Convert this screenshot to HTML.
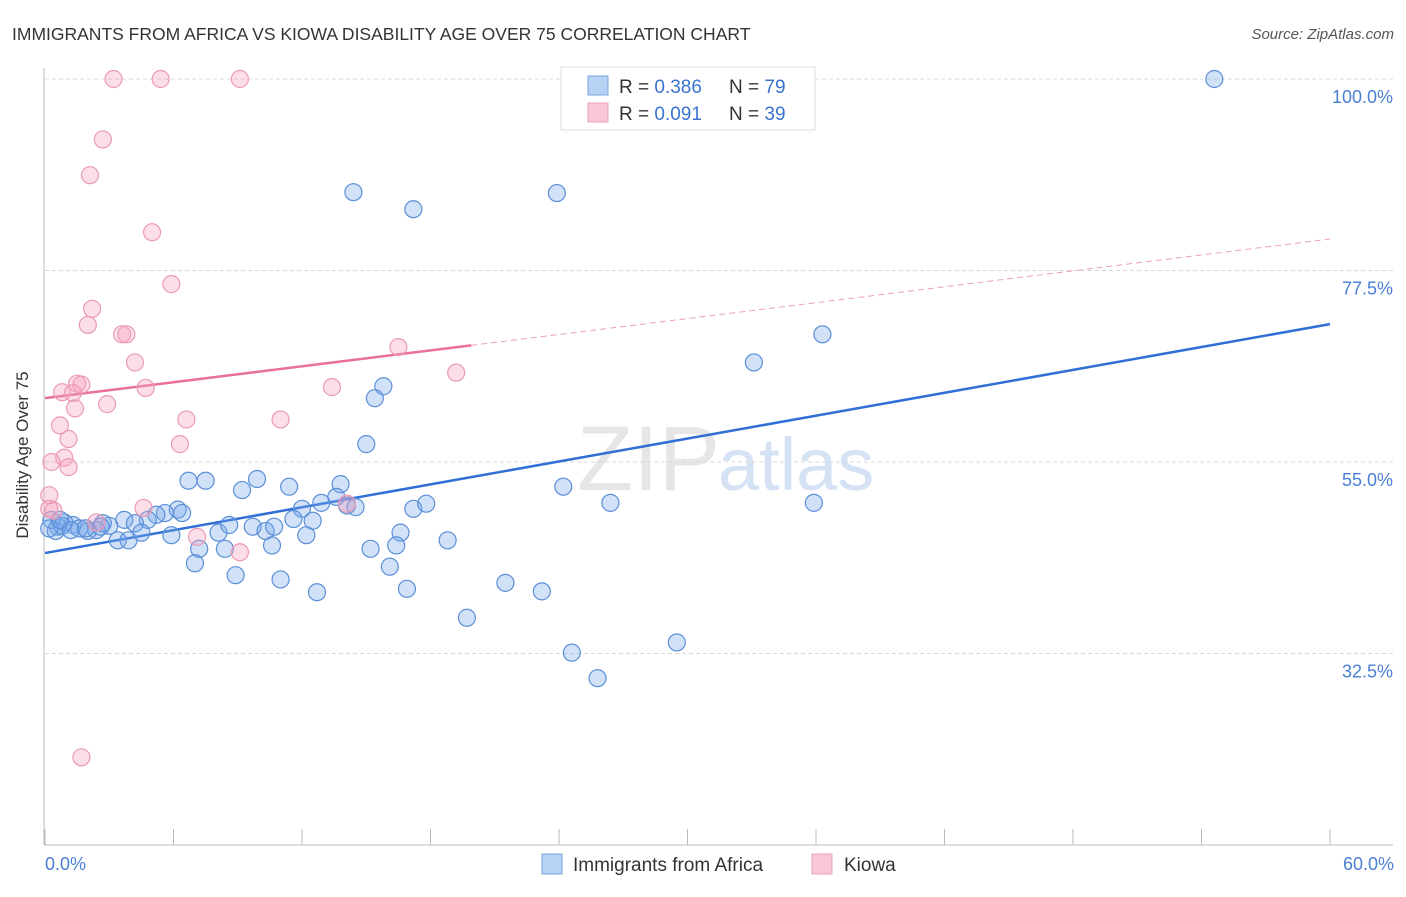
<!DOCTYPE html>
<html><head><meta charset="utf-8"><style>
body{margin:0;background:#fff;font-family:"Liberation Sans",sans-serif}
svg text{font-family:"Liberation Sans",sans-serif}
</style></head><body>
<svg id="c" width="1406" height="892" viewBox="0 0 1406 892">
<text x="12" y="40" font-size="17.5" fill="#333">IMMIGRANTS FROM AFRICA VS KIOWA DISABILITY AGE OVER 75 CORRELATION CHART</text>
<text x="1394" y="39" font-size="15" fill="#555" text-anchor="end" font-style="italic">Source: ZipAtlas.com</text>
<text x="720" y="490" font-size="92" fill="#e6e6e6" text-anchor="end" font-family="Liberation Serif">ZIP</text>
<text x="718" y="490" font-size="74" fill="#d4e2f4">atlas</text>
<g id="grid"></g><g id="axes"></g><g id="trend"></g><g id="pts"></g>
<text x="28" y="455" font-size="17" fill="#333" text-anchor="middle" transform="rotate(-90 28 455)">Disability Age Over 75</text>
<text x="45" y="870" font-size="18" fill="#4a7fd4">0.0%</text>
<text x="1394" y="870" font-size="18" fill="#4a7fd4" text-anchor="end">60.0%</text>
<g>
<rect x="561" y="67" width="254" height="63" fill="#fff" stroke="#ddd"/>
<rect x="588" y="76" width="20" height="19" fill="#b7d2f2" stroke="#7aa6e0"/>
<rect x="588" y="103" width="20" height="19" fill="#f8c8d6" stroke="#eda0b8"/>
<text x="619" y="93" font-size="19" fill="#333">R = <tspan fill="#3b73d0">0.386</tspan><tspan x="729">N = </tspan><tspan fill="#3b73d0">79</tspan></text>
<text x="619" y="120" font-size="19" fill="#333">R = <tspan fill="#3b73d0">0.091</tspan><tspan x="729">N = </tspan><tspan fill="#3b73d0">39</tspan></text>
</g>
<g><rect x="542" y="854" width="20" height="20" fill="#b7d2f2" stroke="#7aa6e0"/><text x="573" y="871" font-size="19" fill="#333">Immigrants from Africa</text></g>
<g><rect x="812" y="854" width="20" height="20" fill="#f8c8d6" stroke="#eda0b8"/><text x="844" y="871" font-size="19" fill="#333">Kiowa</text></g>
</svg>
<script>
const yTicks=[100,77.5,55,32.5];
const yTickLabels=["100.0%","77.5%","55.0%","32.5%"];
const blueX=[54.6,14.4,17.2,23.9,36.3,33.1,15.8,15.4,15.0,24.2,26.4,35.9,6.7,7.5,9.9,9.2,11.4,13.8,13.6,12.9,12.0,14.1,14.5,17.2,17.8,6.2,6.4,5.6,5.2,4.8,3.7,4.2,3.0,2.7,2.4,2.0,1.3,0.9,0.6,0.5,0.3,1.6,3.4,3.9,4.5,5.9,7.2,8.1,8.4,8.6,9.7,10.3,10.7,10.6,11.6,12.2,12.5,16.6,16.4,15.2,18.8,7.0,8.9,11.0,12.7,16.1,16.9,19.7,21.5,23.2,24.6,25.8,29.5,0.8,0.2,1.2,1.9,0.7,2.6];
const blueY=[100,86.7,84.7,86.6,70.0,66.7,63.9,62.5,57.1,52.1,50.2,50.2,52.8,52.8,53.0,51.7,52.1,52.4,50.9,50.2,49.5,49.9,49.7,49.5,50.1,49.4,49.0,49.0,48.8,48.2,48.2,47.8,47.5,47.8,47.0,46.9,47.6,47.9,47.4,46.9,48.2,47.2,45.8,45.8,46.7,46.4,44.8,46.7,44.8,47.6,47.4,46.9,47.4,45.2,48.3,46.4,48.1,46.7,45.2,44.8,45.8,43.1,41.7,41.2,39.7,42.7,40.1,36.7,40.8,39.8,32.6,29.6,33.8,47.5,47.2,47.0,47.2,48.2,47.4];
const pinkX=[3.2,5.4,9.1,2.7,2.1,5.0,5.9,2.2,2.0,3.6,3.8,4.2,16.5,19.2,1.5,1.7,0.8,1.3,4.7,13.4,2.9,1.4,0.7,6.6,11.0,1.1,6.3,0.9,0.3,1.1,0.2,0.2,0.4,4.6,2.4,14.1,7.1,9.1,1.7];
const pinkY=[100,100,100,92.9,88.7,82.0,75.9,73.0,71.1,70.0,70.0,66.7,68.5,65.5,64.2,64.1,63.2,63.1,63.7,63.8,61.8,61.3,59.3,60.0,60.0,57.7,57.1,55.5,55.0,54.4,51.1,49.5,49.3,49.6,47.9,50.1,46.2,44.4,20.3];
const blueTrend=[44.3,71.2];
const pinkTrend=[62.5,81.2];
const pinkSolidEnd=19.9;
const NS="http://www.w3.org/2000/svg";
const X=v=>45+v*1285/60, Y=v=>79+(100-v)*191.5/22.5;
function mk(tag,attrs,parent){const e=document.createElementNS(NS,tag);for(const k in attrs)e.setAttribute(k,attrs[k]);document.getElementById(parent).appendChild(e);return e;}
yTicks.forEach((t,i)=>{
 const l=mk('line',{x1:45,x2:1393,y1:Y(t),y2:Y(t),stroke:'#d8d8d8','stroke-dasharray':'4,3'},'grid');
 
 
 const tx=mk('text',{x:1393,y:Y(t)+24,'font-size':18,fill:'#4a7fd4','text-anchor':'end'},'grid');
 tx.textContent=yTickLabels[i];
 
 
});
const ax=mk('line',{x1:44,x2:44,y1:68,y2:845,stroke:'#bbb'},'axes');


const bx=mk('line',{x1:44,x2:1393,y1:845,y2:845,stroke:'#bbb'},'axes');


for(let i=0;i<=10;i++){const t=mk('line',{x1:X(i*6),x2:X(i*6),y1:829,y2:845,stroke:'#bbb'},'axes');
 
 }
const tb=mk('line',{x1:X(0),y1:Y(blueTrend[0]),x2:X(60),y2:Y(blueTrend[1]),stroke:'#2f6fd6','stroke-width':2.5},'trend');


const pAt=v=>pinkTrend[0]+(pinkTrend[1]-pinkTrend[0])*v/60;
const td=mk('line',{x1:X(pinkSolidEnd),y1:Y(pAt(pinkSolidEnd)),x2:X(60),y2:Y(pinkTrend[1]),stroke:'#eba0b8','stroke-width':1,'stroke-dasharray':'6,4'},'trend');


const tp=mk('line',{x1:X(0),y1:Y(pinkTrend[0]),x2:X(pinkSolidEnd),y2:Y(pAt(pinkSolidEnd)),stroke:'#e8709a','stroke-width':2.5},'trend');


blueX.forEach((v,i)=>{const c=mk('circle',{cx:X(v),cy:Y(blueY[i]),r:8.5,fill:'rgba(120,170,235,0.35)',stroke:'#5b8fd8','stroke-width':1.2},'pts');
 
 });
pinkX.forEach((v,i)=>{const c=mk('circle',{cx:X(v),cy:Y(pinkY[i]),r:8.5,fill:'rgba(245,160,190,0.35)',stroke:'#eb9ab5','stroke-width':1.2},'pts');
 
 });
</script>
</body></html>
